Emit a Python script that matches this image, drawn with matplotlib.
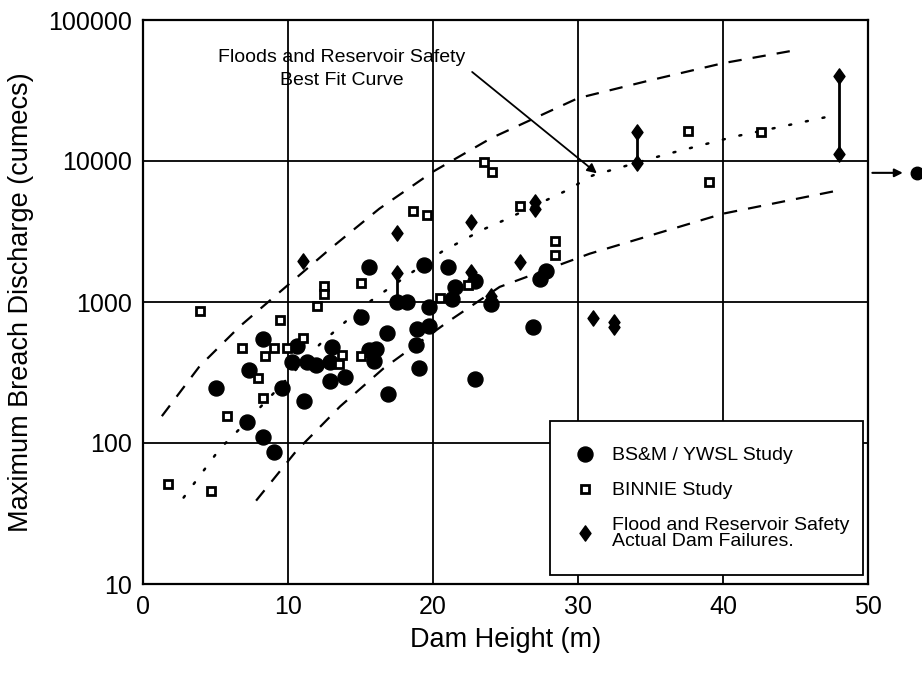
import matplotlib
matplotlib.use("Agg")
import matplotlib.pyplot as plt
from matplotlib.ticker import NullLocator, FixedLocator, FixedFormatter
from matplotlib.path import Path

plt.rcParams['font.family'] = ['Liberation Sans', 'DejaVu Sans']

# ---------------- data ----------------
# BS&M / YWSL Study
bsm_x = [5.0, 8.3, 10.3, 7.3, 9.6, 7.2, 8.3, 9.0, 15.6, 19.4, 17.5, 18.2, 19.7, 15.0,
         16.8, 18.9, 19.7, 18.8, 10.6, 11.3, 11.9, 12.9, 13.0, 16.1, 15.9, 12.9, 13.9,
         19.0, 16.9, 11.1, 21.0, 22.9, 21.5, 21.3, 24.0, 26.9, 22.9, 27.4, 27.8, 15.6]
bsm_y = [244, 546, 374, 328, 244, 140, 111, 86, 1775, 1830, 1000, 1000, 920, 782,
         601, 643, 675, 494, 486, 374, 360, 374, 479, 462, 380, 274, 292,
         339, 221, 197, 1775, 1410, 1280, 1050, 970, 664, 283, 1450, 1650, 455]

# BINNIE Study
bin_x = [3.9, 9.45, 6.8, 9.0, 8.4, 9.9, 7.9, 8.3, 5.8, 1.7, 4.7, 12.5, 12.5, 15.0,
         12.0, 11.0, 13.7, 13.5, 15.0, 18.6, 19.6, 26.0, 28.4, 28.4, 22.4, 20.5,
         23.5, 24.1, 37.6, 39.0, 42.6]
bin_y = [863, 745, 471, 471, 413, 471, 288, 207, 155, 51, 46, 1300, 1140, 1365,
         937, 555, 420, 362, 413, 4450, 4150, 4820, 2718, 2163, 1321, 1067,
         9900, 8410, 16200, 7150, 15960]

# Flood and Reservoir Safety actual dam failures
frs_x = [11.0, 17.5, 17.5, 22.6, 22.6, 27.0, 27.0, 26.0, 24.0, 34.1, 34.1, 48.0, 48.0,
         31.0, 32.5, 32.5]
frs_y = [1960, 1607, 3100, 3710, 1637, 5150, 4590, 1927, 1100, 15960, 9600, 39900, 11130,
         769, 721, 664]

# range bars joining failure estimates
rng_x = [17.5, 34.1, 48.0]
rng_lo = [1000, 9600, 11130]
rng_hi = [1607, 15960, 39900]

# envelope / best fit curves
up_x = [1.3, 3.9, 6.7, 9.1, 12.9, 16.3, 20.0, 24.0, 30.0, 35.0, 40.0, 45.0]
up_y = [155, 350, 675, 1100, 2380, 4590, 8400, 14500, 27900, 37400, 49400, 61100]

mid_x = [2.8, 5.3, 6.5, 9.0, 12.2, 15.2, 20.6, 23.4, 25.0, 29.2, 31.0, 36.0, 40.8, 47.7]
mid_y = [41, 91, 121, 225, 502, 937, 2270, 3250, 3840, 6170, 7890, 11100, 14900, 21100]

lo_x = [7.8, 10.6, 11.7, 13.6, 16.6, 21.0, 24.6, 30.8, 40.0, 47.9]
lo_y = [39, 88.5, 115, 182, 339, 721, 1280, 2200, 4230, 6170]

x_ticks = [0, 10, 20, 30, 40, 50]
y_ticks = [10, 100, 1000, 10000, 100000]
y_tick_labels = ['10', '100', '1000', '10000', '100000']

# ---------------- figure ----------------
fig = plt.figure(figsize=(9.22, 6.74), dpi=100)
ax = fig.add_axes([143 / 922, 1 - 584 / 674, 725 / 922, 564 / 674])
ax.set_yscale('log')
ax.set_xlim(0, 50)
ax.set_ylim(10, 100000)

ax.xaxis.set_major_locator(FixedLocator(x_ticks))
ax.yaxis.set_major_locator(FixedLocator(y_ticks))
ax.yaxis.set_major_formatter(FixedFormatter(y_tick_labels))
ax.yaxis.set_minor_locator(NullLocator())
ax.xaxis.set_minor_locator(NullLocator())
ax.grid(True, which='major', color='black', lw=1.3, zorder=0)
ax.set_axisbelow(True)
ax.tick_params(length=0, pad=8, labelsize=18)
for s in ax.spines.values():
    s.set_linewidth(1.6)

# curves
ax.plot(up_x, up_y, color='black', lw=1.6, ls=(0, (6, 5)), zorder=2)
ax.plot(lo_x, lo_y, color='black', lw=1.6, ls=(0, (6, 5)), zorder=2)
ax.plot(mid_x, mid_y, color='black', lw=1.8, ls=(0, (0.8, 6)), dash_capstyle='round', zorder=2)

# range bars
for xx, a, b in zip(rng_x, rng_lo, rng_hi):
    ax.plot([xx, xx], [a, b], color='black', lw=2.0, zorder=3)

diamond = Path([(0, 1), (0.72, 0), (0, -1), (-0.72, 0), (0, 1)],
               [Path.MOVETO, Path.LINETO, Path.LINETO, Path.LINETO, Path.CLOSEPOLY])

h_c, = ax.plot(bsm_x, bsm_y, 'o', ms=10.8, color='black', mec='black', ls='none', zorder=4)
h_s, = ax.plot(bin_x, bin_y, 's', ms=5.5, mfc='white', mec='black', mew=2.0, ls='none', zorder=5)
h_d, = ax.plot(frs_x, frs_y, marker=diamond, ms=11, color='black', ls='none', zorder=4)

# annotation
ax.text(13.7, 44900, "Floods and Reservoir Safety\nBest Fit Curve", ha='center', va='center',
        multialignment='center', fontsize=14, linespacing=1.45, zorder=6)
ax.annotate('', xy=(31.3, 8180), xytext=(22.7, 42800),
            arrowprops=dict(arrowstyle='-|>', color='black', lw=1.3, mutation_scale=14,
                            shrinkA=0, shrinkB=0), zorder=6)

# off-chart pointer at right
ax.annotate('', xy=(1.048, 0.729), xytext=(1.006, 0.729), xycoords='axes fraction',
            textcoords='axes fraction',
            arrowprops=dict(arrowstyle='-|>', color='black', lw=1.5, mutation_scale=12,
                            shrinkA=0, shrinkB=0), annotation_clip=False)
ax.plot([1.068], [0.729], 'o', transform=ax.transAxes, clip_on=False, ms=9, color='black')

# labels
ax.set_xlabel('Dam Height (m)', fontsize=19.5, labelpad=6)
ax.set_ylabel('Maximum Breach Discharge (cumecs)', fontsize=19.5, labelpad=10)

leg = ax.legend(handles=[h_c, h_s, h_d],
                labels=['BS&M / YWSL Study', 'BINNIE Study',
                        'Flood and Reservoir Safety\nActual Dam Failures.'],
                loc='lower left', bbox_to_anchor=(0.561, 0.016, 0.432, 0.27), mode='expand',
                frameon=True, fancybox=False, edgecolor='black', framealpha=1,
                borderpad=1.3, labelspacing=0.9, handletextpad=0.9, handlelength=1.0,
                fontsize=14, borderaxespad=0)
leg.get_frame().set_linewidth(1.3)
leg.set_zorder(10)
for t in leg.get_texts():
    t.set_linespacing(0.9)

fig.savefig('out.png', dpi=100)
